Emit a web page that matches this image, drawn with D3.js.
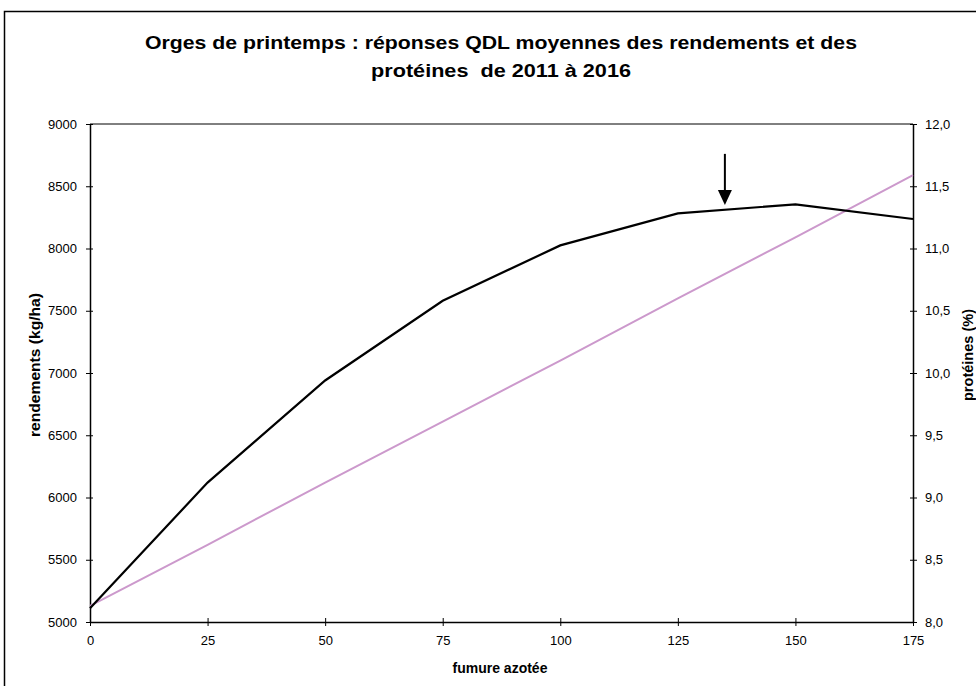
<!DOCTYPE html>
<html>
<head>
<meta charset="utf-8">
<script src="https://cdn.jsdelivr.net/npm/d3@7"></script>
<style>
	body { margin: 0; background: #fff; }
	text { font-family: "Liberation Sans", Arial, sans-serif; fill: #000; }
</style>
</head>
<body>
<script>
(function () {
	"use strict";

	var w = 976;
	var h = 686;

	// data
	var doses = [0, 25, 50, 75, 100, 125, 150, 175];
	var rendements = [5110, 6120, 6940, 7580, 8025, 8282, 8355, 8237];
	var proteines = [8.13, 8.62, 9.12, 9.61, 10.10, 10.60, 11.09, 11.59];
	var yTicks = [5000, 5500, 6000, 6500, 7000, 7500, 8000, 8500, 9000];
	var y2Ticks = [8.0, 8.5, 9.0, 9.5, 10.0, 10.5, 11.0, 11.5, 12.0];
	var arrowAt = { x: 135, from: 8760, to: 8350 };

	var m = { left: 90, right: 913, top: 124, bottom: 622 };

	var svg = d3.select("body")
		.append("svg")
		.attr("width", w)
		.attr("height", h);

	// chart frame
	svg.append("rect")
		.attr("x", 4.5).attr("y", 11.5)
		.attr("width", 1000).attr("height", 1000)
		.attr("fill", "none")
		.attr("stroke", "#000")
		.attr("stroke-width", 1.5);

	// title (stretched a little, as in the original picture)
	var title = svg.append("text")
		.attr("text-anchor", "middle")
		.attr("xml:space", "preserve")
		.style("font-size", "18px")
		.style("font-weight", "bold");
	title.append("tspan").attr("x", 501).attr("y", 49)
		.attr("textLength", 712).attr("lengthAdjust", "spacingAndGlyphs")
		.text("Orges de printemps : réponses QDL moyennes des rendements et des");
	title.append("tspan").attr("x", 501).attr("y", 77)
		.attr("textLength", 260).attr("lengthAdjust", "spacingAndGlyphs")
		.text("protéines  de 2011 à 2016");

	// scales
	var xScale = d3.scaleLinear().domain([0, 175]).range([m.left, m.right]);
	var yScale = d3.scaleLinear().domain([5000, 9000]).range([m.bottom, m.top]);
	var y2Scale = d3.scaleLinear().domain([8, 12]).range([m.bottom, m.top]);

	var fr = d3.format(".1f");

	// top line of plot
	svg.append("line")
		.attr("x1", m.left).attr("x2", m.right)
		.attr("y1", yScale(9000)).attr("y2", yScale(9000))
		.attr("stroke", "#000");

	function styleAxis(g) {
		g.select(".domain").attr("stroke", "#000").attr("stroke-width", 1.5);
		g.selectAll(".tick line").attr("stroke", "#000");
		g.selectAll(".tick text")
			.style("font-size", "13px")
			.style("font-family", "'Liberation Sans', Arial, sans-serif");
	}

	var xAxis = svg.append("g")
		.attr("transform", "translate(0," + m.bottom + ")")
		.call(d3.axisBottom(xScale).tickValues(doses).tickSize(4).tickSizeOuter(0).tickPadding(10));
	xAxis.selectAll(".tick line").attr("y1", -4);
	styleAxis(xAxis);

	var yAxis = svg.append("g")
		.attr("transform", "translate(" + m.left + ",0)")
		.call(d3.axisLeft(yScale).tickValues(yTicks).tickSize(4).tickSizeOuter(0).tickPadding(9).tickFormat(d3.format("d")));
	yAxis.selectAll(".tick line").attr("x1", 3);
	styleAxis(yAxis);

	var y2Axis = svg.append("g")
		.attr("transform", "translate(" + m.right + ",0)")
		.call(d3.axisRight(y2Scale).tickValues(y2Ticks).tickSize(4).tickSizeOuter(0).tickPadding(8)
			.tickFormat(function (d) { return fr(d).replace(".", ","); }));
	y2Axis.selectAll(".tick line").attr("x1", -3);
	styleAxis(y2Axis);

	// axis titles
	svg.append("text")
		.attr("x", 500).attr("y", 673)
		.attr("text-anchor", "middle")
		.style("font-size", "14px").style("font-weight", "bold")
		.text("fumure azotée");

	svg.append("text")
		.attr("transform", "translate(40,365) rotate(-90)")
		.attr("text-anchor", "middle")
		.attr("textLength", 144).attr("lengthAdjust", "spacingAndGlyphs")
		.style("font-size", "14px").style("font-weight", "bold")
		.text("rendements (kg/ha)");

	svg.append("text")
		.attr("transform", "translate(973,355) rotate(-90)")
		.attr("text-anchor", "middle")
		.attr("textLength", 92).attr("lengthAdjust", "spacingAndGlyphs")
		.style("font-size", "14px").style("font-weight", "bold")
		.text("protéines (%)");

	// lines
	var lineRend = d3.line()
		.x(function (d, i) { return xScale(doses[i]); })
		.y(function (d) { return yScale(d); });
	var lineProt = d3.line()
		.x(function (d, i) { return xScale(doses[i]); })
		.y(function (d) { return y2Scale(d); });

	svg.append("path")
		.attr("d", lineProt(proteines))
		.attr("fill", "none")
		.attr("stroke", "#cc99cc")
		.attr("stroke-width", 2);

	svg.append("path")
		.attr("d", lineRend(rendements))
		.attr("fill", "none")
		.attr("stroke", "#000")
		.attr("stroke-width", 2.2);

	// arrow
	var ax = xScale(arrowAt.x);
	var ay1 = yScale(arrowAt.from);
	var ay2 = yScale(arrowAt.to);
	svg.append("line")
		.attr("x1", ax).attr("x2", ax)
		.attr("y1", ay1).attr("y2", ay2 - 12)
		.attr("stroke", "#000").attr("stroke-width", 2);
	svg.append("path")
		.attr("d", "M" + (ax - 7) + "," + (ay2 - 15) + "L" + (ax + 7) + "," + (ay2 - 15) + "L" + ax + "," + ay2 + "Z")
		.attr("fill", "#000");
})();
</script>
</body>
</html>
